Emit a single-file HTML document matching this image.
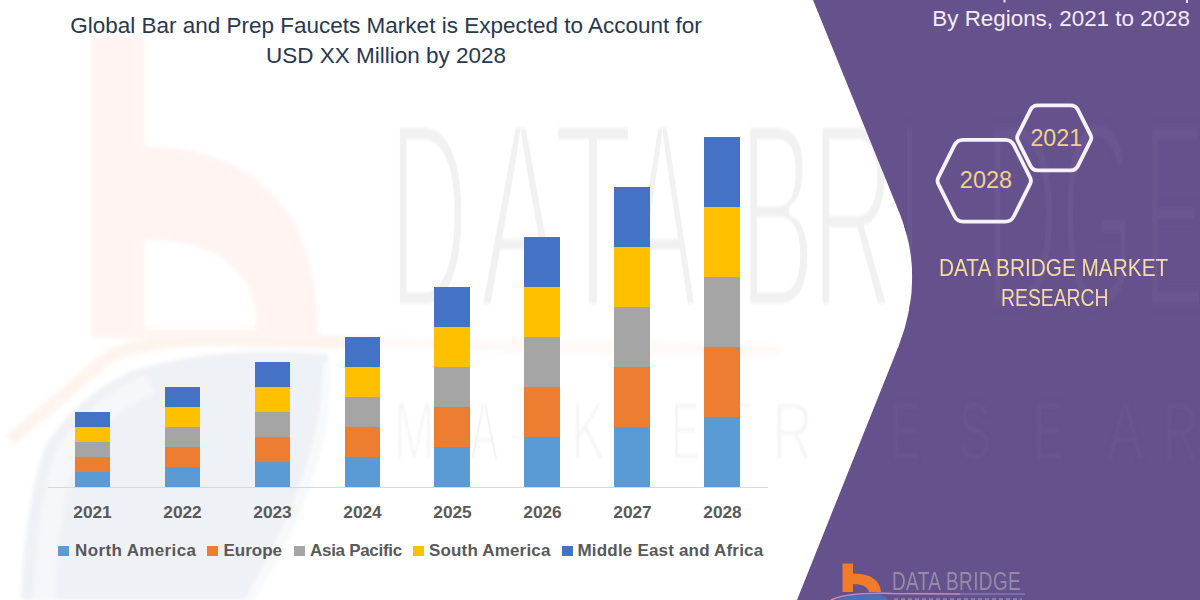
<!DOCTYPE html>
<html><head><meta charset="utf-8">
<style>
html,body{margin:0;padding:0;}
body{width:1200px;height:600px;overflow:hidden;position:relative;background:#fff;font-family:"Liberation Sans",sans-serif;}
.abs{position:absolute;white-space:nowrap;line-height:1;}
.bar{position:absolute;width:35.6px;}
.s1{background:#5B9BD5}.s2{background:#ED7D31}.s3{background:#A5A5A5}.s4{background:#FFC000}.s5{background:#4472C4}
.yr{position:absolute;font-weight:bold;font-size:17.3px;color:#595959;line-height:1;width:60px;text-align:center;}
.lg{position:absolute;font-weight:bold;font-size:17px;color:#595959;line-height:1;white-space:nowrap;}
.sq{position:absolute;width:11px;height:10px;}
</style></head>
<body>
<svg class="abs" style="left:0;top:0;filter:blur(2px)" width="1200" height="600" viewBox="0 0 1200 600">
<!-- watermark globe -->
<path fill="#EEF1F5" d="M20,620 Q24,500 46,445 Q78,395 130,372 Q210,345 328,354 C338,430 300,530 240,620 Z"/>
<path fill="none" stroke="#F5F7FA" stroke-width="22" d="M44,620 Q46,510 66,455 Q95,408 150,384"/>
<path fill="none" stroke="#F9FAFB" stroke-width="7" d="M326,362 C328,440 292,530 236,620"/>
<!-- watermark swoosh -->
<path fill="none" stroke="#FEF4EE" stroke-width="13" d="M10,440 L110,356 Q150,338 230,340 L380,343"/>
<path fill="none" stroke="#FFF9F6" stroke-width="12" d="M370,343 L780,351"/>
<!-- watermark b -->
<path fill="#FFF4F1" fill-rule="evenodd" d="M92,36 L144,36 L144,146 Q318,150 318,338 L92,338 Z M144,240 L144,329 L257,329 Q255,240 144,240 Z"/>
</svg>
<div class="abs" style="left:389.2px;top:80.6px;font-size:268px;color:#F1F1F1;-webkit-text-stroke:9px #fff;transform:scaleX(0.410);transform-origin:0 0;filter:blur(1.5px)">D</div>
<div class="abs" style="left:480.0px;top:80.6px;font-size:268px;color:#F1F1F1;-webkit-text-stroke:9px #fff;transform:scaleX(0.452);transform-origin:0 0;filter:blur(1.5px)">A</div>
<div class="abs" style="left:553.4px;top:80.6px;font-size:268px;color:#F1F1F1;-webkit-text-stroke:9px #fff;transform:scaleX(0.489);transform-origin:0 0;filter:blur(1.5px)">T</div>
<div class="abs" style="left:628.0px;top:80.6px;font-size:268px;color:#F1F1F1;-webkit-text-stroke:9px #fff;transform:scaleX(0.384);transform-origin:0 0;filter:blur(1.5px)">A</div>
<div class="abs" style="left:738.9px;top:80.6px;font-size:268px;color:#F1F1F1;-webkit-text-stroke:9px #fff;transform:scaleX(0.426);transform-origin:0 0;filter:blur(1.5px)">B</div>
<div class="abs" style="left:810.7px;top:80.6px;font-size:268px;color:#F1F1F1;-webkit-text-stroke:9px #fff;transform:scaleX(0.433);transform-origin:0 0;filter:blur(1.5px)">R</div>
<div class="abs" style="left:393.6px;top:391.3px;font-size:81px;color:#F3F3F3;-webkit-text-stroke:3px #fff;transform:scaleX(0.599);transform-origin:0 0;filter:blur(1.5px)">M</div>
<div class="abs" style="left:470.0px;top:391.3px;font-size:81px;color:#F3F3F3;-webkit-text-stroke:3px #fff;transform:scaleX(0.524);transform-origin:0 0;filter:blur(1.5px)">A</div>
<div class="abs" style="left:524.8px;top:391.3px;font-size:81px;color:#F3F3F3;-webkit-text-stroke:3px #fff;transform:scaleX(0.558);transform-origin:0 0;filter:blur(1.5px)">R</div>
<div class="abs" style="left:571.4px;top:391.3px;font-size:81px;color:#F3F3F3;-webkit-text-stroke:3px #fff;transform:scaleX(0.637);transform-origin:0 0;filter:blur(1.5px)">K</div>
<div class="abs" style="left:671.0px;top:391.3px;font-size:81px;color:#F3F3F3;-webkit-text-stroke:3px #fff;transform:scaleX(0.529);transform-origin:0 0;filter:blur(1.5px)">E</div>
<div class="abs" style="left:721.6px;top:391.3px;font-size:81px;color:#F3F3F3;-webkit-text-stroke:3px #fff;transform:scaleX(0.596);transform-origin:0 0;filter:blur(1.5px)">T</div>
<div class="abs" style="left:772.0px;top:391.3px;font-size:81px;color:#F3F3F3;-webkit-text-stroke:3px #fff;transform:scaleX(0.697);transform-origin:0 0;filter:blur(1.5px)">R</div>

<svg class="abs" style="left:0;top:0" width="1200" height="600" viewBox="0 0 1200 600">
<path fill="#65518C" d="M813,0 L900.29,215 Q924.8,277.9 899,345 L797,600 L1200,600 L1200,0 Z"/>
</svg>
<div class="abs" style="left:0;top:0;width:1200px;height:600px;clip-path:path('M813,0 L900.29,215 Q924.8,277.9 899,345 L797,600 L1200,600 L1200,0 Z')"><div class="abs" style="left:896.8px;top:80.6px;font-size:268px;color:rgba(255,255,255,0.035);-webkit-text-stroke:9px #65518C;transform:scaleX(0.336);transform-origin:0 0;filter:blur(1.5px)">I</div>
<div class="abs" style="left:983.7px;top:80.6px;font-size:268px;color:rgba(255,255,255,0.035);-webkit-text-stroke:9px #65518C;transform:scaleX(0.386);transform-origin:0 0;filter:blur(1.5px)">D</div>
<div class="abs" style="left:1060.5px;top:80.6px;font-size:268px;color:rgba(255,255,255,0.035);-webkit-text-stroke:9px #65518C;transform:scaleX(0.351);transform-origin:0 0;filter:blur(1.5px)">G</div>
<div class="abs" style="left:1142.6px;top:80.6px;font-size:268px;color:rgba(255,255,255,0.035);-webkit-text-stroke:9px #65518C;transform:scaleX(0.346);transform-origin:0 0;filter:blur(1.5px)">E</div>
<div class="abs" style="left:889.8px;top:391.3px;font-size:81px;color:rgba(255,255,255,0.035);-webkit-text-stroke:3px #65518C;transform:scaleX(0.573);transform-origin:0 0;filter:blur(1.5px)">E</div>
<div class="abs" style="left:957.5px;top:391.3px;font-size:81px;color:rgba(255,255,255,0.035);-webkit-text-stroke:3px #65518C;transform:scaleX(0.617);transform-origin:0 0;filter:blur(1.5px)">S</div>
<div class="abs" style="left:1032.8px;top:391.3px;font-size:81px;color:rgba(255,255,255,0.035);-webkit-text-stroke:3px #65518C;transform:scaleX(0.573);transform-origin:0 0;filter:blur(1.5px)">E</div>
<div class="abs" style="left:1107.2px;top:391.3px;font-size:81px;color:rgba(255,255,255,0.035);-webkit-text-stroke:3px #65518C;transform:scaleX(0.673);transform-origin:0 0;filter:blur(1.5px)">A</div>
<div class="abs" style="left:1162.6px;top:391.3px;font-size:81px;color:rgba(255,255,255,0.035);-webkit-text-stroke:3px #65518C;transform:scaleX(0.597);transform-origin:0 0;filter:blur(1.5px)">R</div>
</div>

<div class="abs" style="left:0;width:772px;text-align:center;top:14.5px;font-size:22.5px;color:#27384F">Global Bar and Prep Faucets Market is Expected to Account for</div>
<div class="abs" style="left:0;width:772px;text-align:center;top:44.5px;font-size:22.5px;color:#27384F">USD XX Million by 2028</div>

<div class="abs" style="left:48px;top:486.5px;width:720px;height:1.2px;background:#D9D9D9"></div>

<div class="bar s1" style="left:74.8px;top:471.5px;height:15px"></div>
<div class="bar s2" style="left:74.8px;top:456.5px;height:15px"></div>
<div class="bar s3" style="left:74.8px;top:441.5px;height:15px"></div>
<div class="bar s4" style="left:74.8px;top:426.5px;height:15px"></div>
<div class="bar s5" style="left:74.8px;top:411.5px;height:15px"></div>
<div class="bar s1" style="left:164.8px;top:466.5px;height:20px"></div>
<div class="bar s2" style="left:164.8px;top:446.5px;height:20px"></div>
<div class="bar s3" style="left:164.8px;top:426.5px;height:20px"></div>
<div class="bar s4" style="left:164.8px;top:406.5px;height:20px"></div>
<div class="bar s5" style="left:164.8px;top:386.5px;height:20px"></div>
<div class="bar s1" style="left:254.8px;top:461.5px;height:25px"></div>
<div class="bar s2" style="left:254.8px;top:436.5px;height:25px"></div>
<div class="bar s3" style="left:254.8px;top:411.5px;height:25px"></div>
<div class="bar s4" style="left:254.8px;top:386.5px;height:25px"></div>
<div class="bar s5" style="left:254.8px;top:361.5px;height:25px"></div>
<div class="bar s1" style="left:344.8px;top:456.5px;height:30px"></div>
<div class="bar s2" style="left:344.8px;top:426.5px;height:30px"></div>
<div class="bar s3" style="left:344.8px;top:396.5px;height:30px"></div>
<div class="bar s4" style="left:344.8px;top:366.5px;height:30px"></div>
<div class="bar s5" style="left:344.8px;top:336.5px;height:30px"></div>
<div class="bar s1" style="left:434.4px;top:446.5px;height:40px"></div>
<div class="bar s2" style="left:434.4px;top:406.5px;height:40px"></div>
<div class="bar s3" style="left:434.4px;top:366.5px;height:40px"></div>
<div class="bar s4" style="left:434.4px;top:326.5px;height:40px"></div>
<div class="bar s5" style="left:434.4px;top:286.5px;height:40px"></div>
<div class="bar s1" style="left:524.4px;top:436.5px;height:50px"></div>
<div class="bar s2" style="left:524.4px;top:386.5px;height:50px"></div>
<div class="bar s3" style="left:524.4px;top:336.5px;height:50px"></div>
<div class="bar s4" style="left:524.4px;top:286.5px;height:50px"></div>
<div class="bar s5" style="left:524.4px;top:236.5px;height:50px"></div>
<div class="bar s1" style="left:614.4px;top:426.5px;height:60px"></div>
<div class="bar s2" style="left:614.4px;top:366.5px;height:60px"></div>
<div class="bar s3" style="left:614.4px;top:306.5px;height:60px"></div>
<div class="bar s4" style="left:614.4px;top:246.5px;height:60px"></div>
<div class="bar s5" style="left:614.4px;top:186.5px;height:60px"></div>
<div class="bar s1" style="left:704.4px;top:416.5px;height:70px"></div>
<div class="bar s2" style="left:704.4px;top:346.5px;height:70px"></div>
<div class="bar s3" style="left:704.4px;top:276.5px;height:70px"></div>
<div class="bar s4" style="left:704.4px;top:206.5px;height:70px"></div>
<div class="bar s5" style="left:704.4px;top:136.5px;height:70px"></div>

<div class="yr" style="left:62.5px;top:503.8px">2021</div>
<div class="yr" style="left:152.5px;top:503.8px">2022</div>
<div class="yr" style="left:242.5px;top:503.8px">2023</div>
<div class="yr" style="left:332.5px;top:503.8px">2024</div>
<div class="yr" style="left:422.5px;top:503.8px">2025</div>
<div class="yr" style="left:512.5px;top:503.8px">2026</div>
<div class="yr" style="left:602.5px;top:503.8px">2027</div>
<div class="yr" style="left:692.5px;top:503.8px">2028</div>

<div class="sq s1" style="left:58.3px;top:546.2px"></div>
<div class="lg" style="left:75px;top:542.1px;letter-spacing:0.37px">North America</div>
<div class="sq s2" style="left:207.3px;top:546.2px"></div>
<div class="lg" style="left:223.5px;top:542.1px">Europe</div>
<div class="sq s3" style="left:294.2px;top:546.2px"></div>
<div class="lg" style="left:310px;top:542.1px;letter-spacing:-0.3px">Asia Pacific</div>
<div class="sq s4" style="left:413.3px;top:546.2px"></div>
<div class="lg" style="left:429px;top:542.1px;letter-spacing:0.17px">South America</div>
<div class="sq s5" style="left:561.7px;top:546.2px"></div>
<div class="lg" style="left:577.5px;top:542.1px;letter-spacing:0.19px">Middle East and Africa</div>

<div class="abs" style="right:10px;top:7.5px;font-size:22.4px;color:#F4ECF6">By Regions, 2021 to 2028</div>

<svg class="abs" style="left:0;top:0" width="1200" height="600" viewBox="0 0 1200 600">
<path d="M938.27,183.83 Q936.70,180.70 938.27,177.57 L954.51,145.16 Q957.20,139.80 963.20,139.80 L1005.20,139.80 Q1011.20,139.80 1013.89,145.16 L1030.13,177.57 Q1031.70,180.70 1030.13,183.83 L1013.89,216.24 Q1011.20,221.60 1005.20,221.60 L963.20,221.60 Q957.20,221.60 954.51,216.24 Z" fill="none" stroke="#F7F2F8" stroke-width="3.8"/>
<path d="M1017.79,140.58 Q1016.45,137.90 1017.79,135.22 L1030.46,109.92 Q1032.70,105.45 1037.70,105.45 L1070.70,105.45 Q1075.70,105.45 1077.94,109.92 L1090.61,135.22 Q1091.95,137.90 1090.61,140.58 L1077.94,165.88 Q1075.70,170.35 1070.70,170.35 L1037.70,170.35 Q1032.70,170.35 1030.46,165.88 Z" fill="none" stroke="#F7F2F8" stroke-width="3.8"/>
</svg>
<div class="abs" style="left:936px;width:100px;text-align:center;top:168.5px;font-size:23.5px;color:#F0D28E">2028</div>
<div class="abs" style="left:1006.3px;width:100px;text-align:center;top:127px;font-size:23.3px;color:#F0D28E">2021</div>

<svg class="abs" style="left:0;top:0" width="1200" height="600" viewBox="0 0 1200 600">
<path fill="#F07B2A" fill-rule="evenodd" d="M842.5,563.6 L853,563.6 L853,573.5 Q879,573.5 881,592 L842.5,592 Z M853,584 L853,592 L869,592 Q867,584 853,584 Z"/>
<path fill="#4A6FC0" d="M836,600 Q850,594 880,594.5 Q886,596 888,600 Z"/>
<path fill="none" stroke="#8A80AE" stroke-width="2.5" stroke-dasharray="4 3" d="M894,599.5 L1022,599.5"/>
<path fill="none" stroke="#D08CA6" stroke-width="1.6" d="M831,600 Q848,592 892,593.5 L960,594"/>
<path fill="none" stroke="#7F78B8" stroke-width="1.4" d="M960,594 L1025,594"/>
<rect x="1003.5" y="0" width="2" height="2.5" fill="#E8E0F0"/>
<rect x="1186" y="0" width="2" height="3" fill="#E8E0F0"/>
</svg>
<div class="abs" style="left:892px;top:569px;font-size:25px;color:#948BAA;transform:scaleX(0.76);transform-origin:0 0;letter-spacing:0.5px">DATA BRIDGE</div>
<div class="abs" style="left:938.5px;top:256.7px;font-size:23.2px;transform:scaleX(0.897);transform-origin:0 0;color:#F5DCA4">DATA BRIDGE MARKET</div>
<div class="abs" style="left:1001px;top:286.7px;font-size:23.6px;transform:scaleX(0.82);transform-origin:0 0;color:#F5DCA4">RESEARCH</div>
</body></html>
